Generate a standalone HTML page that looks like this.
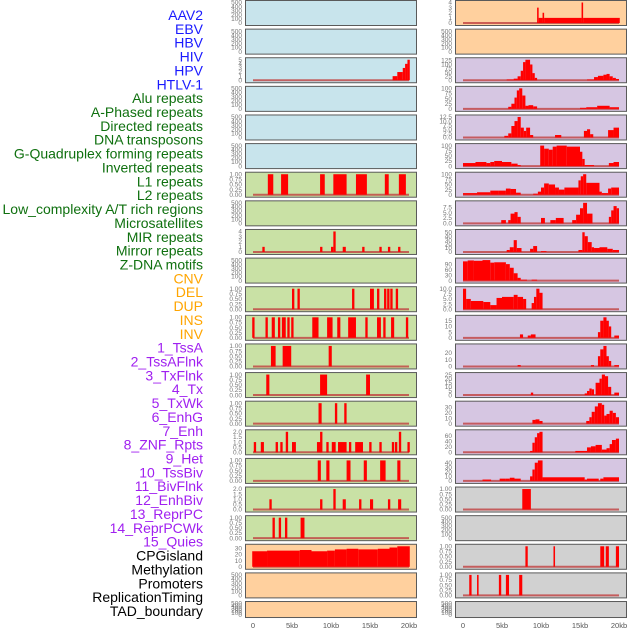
<!DOCTYPE html>
<html><head><meta charset="utf-8"><style>
html,body{margin:0;padding:0;background:#fff;}
svg{display:block;font-family:"Liberation Sans",sans-serif;}
</style></head><body>
<svg id="chart" width="630" height="630" viewBox="0 0 630 630"></svg>
<script>
// ---- labels ----
const trackLabels = ["AAV2","EBV","HBV","HIV","HPV","HTLV-1","Alu repeats","A-Phased repeats","Directed repeats","DNA transposons","G-Quadruplex forming repeats","Inverted repeats","L1 repeats","L2 repeats","Low_complexity A/T rich regions","Microsatellites","MIR repeats","Mirror repeats","Z-DNA motifs","CNV","DEL","DUP","INS","INV","1_TssA","2_TssAFlnk","3_TxFlnk","4_Tx","5_TxWk","6_EnhG","7_Enh","8_ZNF_Rpts","9_Het","10_TssBiv","11_BivFlnk","12_EnhBiv","13_ReprPC","14_ReprPCWk","15_Quies","CPGisland","Methylation","Promoters","ReplicationTiming","TAD_boundary"];
const labelGroups = [6,13,5,15,5];
const xTickKb = [0,5,10,15,20];
const xTickLabels = ["0","5kb","10kb","15kb","20kb"];

// ---- tick sets ----
const ticksEmpty = [0,100,200,300,400,500];
const ticksBinary = [0,0.25,0.5,0.75,1];
const labelsBinary = ["0.00","0.25","0.50","0.75","1.00"];

// ---- left column data ----
const hbvSegs = [[17.9,18.5,1],[18.5,19.2,2],[19.2,19.5,3],[19.5,19.8,4],[19.8,20.1,5]];
const aluIntervals = [[1.9,2.6,1],[3.6,4.5,1],[8.6,9.2,1],[10.3,12.0,1],[13.2,14.6,1],[16.9,17.4,1],[18.7,19.6,1]];
const directedIntervals = [[1.2,1.5,1],[8.6,8.9,1],[10.0,10.3,1],[10.3,10.6,4],[11.5,11.9,1],[14.0,14.3,1],[16.2,16.5,1],[17.3,17.6,1],[18.6,18.9,1]];
const gquadIntervals = [[5.0,5.3,1],[5.7,6.0,1],[12.7,13.0,1],[15.0,15.5,1],[15.9,16.2,1],[16.8,17.1,1],[17.2,17.5,1],[17.6,17.9,1],[18.3,18.6,1]];
const invertedIntervals = [[-0.1,0.2,1],[1.6,1.9,1],[2.4,2.8,1],[3.2,3.5,1],[3.7,4.2,1],[4.4,4.7,1],[4.9,5.2,1],[7.6,8.4,1],[9.5,10.2,1],[10.8,11.2,1],[12.2,13.2,1],[14.4,14.7,1],[15.9,16.4,1],[16.7,17.0,1],[17.7,18.1,1],[19.6,19.9,1]];
const lowComplexIntervals = [[2.3,2.9,1],[3.8,4.9,1],[9.7,10.1,1]];
const microsatIntervals = [[1.7,2.1,1],[8.6,9.5,1],[14.5,15.0,1]];
const mirIntervals = [[8.4,8.8,1],[10.5,10.8,1],[11.7,12.0,1]];
const mirrorIntervals = [[0.1,0.4,1],[1.0,1.4,1],[2.9,3.2,1],[3.5,3.8,1],[4.2,4.5,2],[5.0,5.5,1],[8.2,8.8,1],[8.6,8.9,2],[9.4,9.7,1],[10.1,10.6,1],[10.9,12.0,1],[12.3,12.6,1],[13.1,14.1,1],[14.9,15.2,1],[16.2,16.5,1],[17.8,18.1,1],[18.2,18.5,1],[18.7,19.0,2],[19.8,20.1,1]];
const zdnaIntervals = [[8.3,8.7,1],[9.4,9.8,1],[12.0,12.5,1],[14.2,14.6,1],[16.3,17.0,1],[18.5,18.9,1]];
const cnvIntervals = [[2.1,2.4,1],[8.6,8.9,1],[10.3,10.6,2],[11.5,11.9,1],[13.6,13.9,1],[15.0,15.4,1],[17.3,17.6,1],[18.6,19.0,1]];
const delIntervals = [[2.5,2.8,1],[3.3,3.6,1],[4.1,4.4,1],[6.1,6.6,1]];
const dupSegs = [[-0.1,1.8,25],[1.8,6.0,26],[6.0,7.5,27],[7.5,9.5,25],[9.5,10.5,26],[10.5,12.0,28],[12.0,13.5,29],[13.5,16.0,28],[16.0,17.5,29],[17.5,18.5,31],[18.5,20.1,33]];

// ---- right column data ----
const r0Segs = [[9.5,9.7,3],[9.7,10.2,1],[10.2,10.4,2],[10.4,15.2,1],[15.2,15.4,4],[15.4,20.1,1]];
const r2Segs = [[5.6,6.5,5],[6.5,7.0,10],[7.0,7.4,25],[7.4,7.7,60],[7.7,8.0,115],[8.0,8.6,130],[8.6,8.9,100],[8.9,9.2,45],[9.2,9.5,15],[15.9,16.8,5],[16.8,17.3,20],[17.3,18.0,28],[18.0,18.4,35],[18.4,18.8,40],[18.8,19.2,25],[19.2,19.6,15],[19.6,20.0,8]];
const r3Segs = [[5.8,6.2,10],[6.2,6.6,25],[6.6,6.9,55],[6.9,7.2,90],[7.2,7.6,100],[7.6,8.0,65],[8.0,8.4,15],[8.4,9.0,18],[9.0,9.5,12],[15.0,15.8,5],[15.8,17.2,8],[17.2,18.8,15],[18.8,20.0,8]];
const r4Segs = [[5.3,5.8,1],[5.8,6.2,2.5],[6.2,6.6,7],[6.6,7.0,10],[7.0,7.4,12.5],[7.4,7.8,6],[7.8,8.1,4],[8.1,8.6,6],[8.6,9.0,1.5],[11.8,12.6,1.5],[15.5,15.9,4],[15.9,16.3,5],[16.3,16.7,2],[18.6,19.3,4.5],[19.3,20.0,6]];
const r5Segs = [[0,1.6,15],[1.6,3.0,20],[3.0,3.5,15],[3.5,4.0,20],[4.0,5.0,25],[5.0,6.2,20],[6.2,7.0,12],[7.0,7.4,5],[9.9,10.4,100],[10.4,11.0,85],[11.0,11.5,80],[11.5,12.0,95],[12.0,13.3,100],[13.3,15.0,95],[15.0,15.3,70],[15.3,15.6,35],[15.6,16.8,5],[18.7,19.3,15],[19.3,20.0,20]];
const r6Segs = [[0,1.8,8],[1.8,3.5,12],[3.5,4.5,20],[4.5,5.5,20],[5.5,6.1,30],[6.1,6.8,28],[6.8,7.4,10],[9.0,9.6,5],[9.6,10.0,15],[10.0,10.4,35],[10.4,11.0,55],[11.0,11.8,50],[11.8,12.3,35],[12.3,13.0,25],[13.0,14.8,35],[14.8,15.1,70],[15.1,15.4,90],[15.4,15.8,100],[15.8,17.5,58],[17.5,17.8,15],[17.8,18.6,8],[18.6,19.0,30],[19.0,20.0,35]];
const r7Segs = [[4.9,5.5,1.5],[5.8,6.1,1.5],[6.1,6.6,4.5],[6.6,7.0,5.2],[7.0,7.4,3],[10.0,10.5,2.5],[11.2,11.9,1.5],[11.9,12.9,2.5],[14.0,14.5,1.5],[14.5,15.0,4],[15.0,15.4,7],[15.4,15.9,9.5],[15.9,16.6,4.5],[18.7,19.0,3],[19.0,19.3,6],[19.3,19.7,8],[19.7,20.0,7]];
const r8Segs = [[5.6,6.0,5],[6.0,6.5,12],[6.5,6.9,30],[6.9,7.5,10],[8.6,9.0,8],[9.0,9.5,15],[10.0,10.7,2],[14.8,15.3,5],[15.3,15.6,50],[15.6,16.0,40],[16.0,16.5,25],[16.5,16.8,12],[16.8,17.5,10],[17.5,18.5,12],[18.5,19.2,8],[19.2,20.0,5]];
const r9Segs = [[0,0.6,105],[0.6,1.4,110],[1.4,2.5,108],[2.5,3.5,112],[3.5,4.0,98],[4.0,5.5,100],[5.5,6.0,90],[6.0,6.5,70],[6.5,7.0,40],[7.0,7.4,15],[7.4,8.2,5],[8.8,9.5,5]];
const r10Segs = [[0,0.4,10],[0.4,1.0,5],[1.0,2.6,4],[2.6,3.5,3.5],[3.5,4.3,2],[4.3,5.0,5.5],[5.0,6.5,6],[6.5,7.0,7],[7.0,7.7,6],[7.7,8.1,5],[8.8,9.1,3],[9.1,9.4,6],[9.4,9.8,10],[9.8,10.2,8]];
const r11Segs = [[7.3,7.7,3],[8.3,8.7,2],[8.7,9.3,3],[17.3,17.6,5],[17.6,18.0,15],[18.0,18.4,18],[18.4,18.7,15],[18.7,19.0,10],[19.4,20.0,2]];
const r12Segs = [[7.0,7.4,2],[16.4,16.8,2],[17.3,17.6,15],[17.6,18.0,25],[18.0,18.4,30],[18.4,18.7,15],[18.7,19.0,8],[19.4,20.0,2]];
const r13Segs = [[8.7,9.0,3],[15.6,15.9,2],[15.9,16.2,5],[16.2,16.5,8],[16.5,16.8,7],[17.0,17.5,15],[17.5,17.8,20],[17.8,18.2,25],[18.2,18.6,23],[18.6,19.0,10],[19.4,20.0,3]];
const r14Segs = [[8.9,9.3,7],[9.3,9.8,8],[9.8,10.2,5],[15.8,16.2,5],[16.2,16.5,12],[16.5,16.9,22],[16.9,17.3,32],[17.3,17.8,38],[17.8,18.1,35],[18.1,18.4,15],[18.4,18.8,18],[18.8,19.2,24],[19.2,19.6,20],[19.6,20.0,12]];
const r15Segs = [[8.6,8.9,5],[8.9,9.2,35],[9.2,9.5,55],[9.5,9.8,70],[9.8,10.2,75],[14.4,15.9,5],[15.9,16.4,18],[16.4,17.0,22],[17.0,17.8,27],[17.8,18.4,10],[18.4,18.8,15],[18.8,19.1,30],[19.1,19.6,45],[19.6,20.0,50]];
const r16Segs = [[2.5,3.6,3],[4.7,5.4,5],[5.4,6.0,5],[6.0,6.6,7],[6.6,7.4,5],[8.6,8.9,10],[8.9,9.2,25],[9.2,9.6,40],[9.6,10.2,45],[10.2,15.6,8],[15.6,15.9,3],[15.9,17.4,5],[17.6,18.0,5],[18.0,20.0,8]];
const r17Intervals = [[7.6,8.7,1]];
const r19Intervals = [[8.0,8.3,1],[11.6,11.8,1],[17.6,18.1,1],[18.3,18.7,1],[19.6,20.0,1]];
const r20Intervals = [[0.8,1.1,1],[1.8,2.0,1],[4.6,4.9,1],[5.5,5.9,1],[7.2,7.6,1]];

// ---- panel definitions ----
const BG = {blue:"#c8e4ec",green:"#c9e1a5",orange:"#ffd09e",purple:"#d6c6e2",gray:"#d1d1d1"};
const leftPanels = [
 {bg:"blue",data:null},{bg:"blue",data:null},
 {bg:"blue",data:hbvSegs,ticks:[0,1,2,3,4,5],ymax:5},
 {bg:"blue",data:null},{bg:"blue",data:null},{bg:"blue",data:null},
 {bg:"green",data:aluIntervals,bin:true},
 {bg:"green",data:null},
 {bg:"green",data:directedIntervals,ticks:[0,1,2,3,4],ymax:4},
 {bg:"green",data:null},
 {bg:"green",data:gquadIntervals,bin:true},
 {bg:"green",data:invertedIntervals,bin:true},
 {bg:"green",data:lowComplexIntervals,bin:true},
 {bg:"green",data:microsatIntervals,bin:true},
 {bg:"green",data:mirIntervals,bin:true},
 {bg:"green",data:mirrorIntervals,ticks:[0,0.5,1,1.5,2],tl:["0.0","0.5","1.0","1.5","2.0"],ymax:2},
 {bg:"green",data:zdnaIntervals,bin:true},
 {bg:"green",data:cnvIntervals,ticks:[0,0.5,1,1.5,2],tl:["0.0","0.5","1.0","1.5","2.0"],ymax:2},
 {bg:"green",data:delIntervals,bin:true},
 {bg:"orange",data:dupSegs,ticks:[0,10,20,30],ymax:33},
 {bg:"orange",data:null},{bg:"orange",data:null}
];
const rightPanels = [
 {bg:"orange",data:r0Segs,ticks:[0,1,2,3,4],ymax:4},
 {bg:"orange",data:null},
 {bg:"purple",data:r2Segs,ticks:[0,25,50,75,100,125],ymax:130},
 {bg:"purple",data:r3Segs,ticks:[0,25,50,75,100],ymax:100},
 {bg:"purple",data:r4Segs,ticks:[0,2.5,5,7.5,10,12.5],tl:["0.0","2.5","5.0","7.5","10.0","12.5"],ymax:12.5},
 {bg:"purple",data:r5Segs,ticks:[0,25,50,75,100],ymax:100},
 {bg:"purple",data:r6Segs,ticks:[0,25,50,75,100],ymax:100},
 {bg:"purple",data:r7Segs,ticks:[0,2.5,5,7.5],tl:["0.0","2.5","5.0","7.5"],ymax:9.5},
 {bg:"purple",data:r8Segs,ticks:[0,10,20,30,40,50],ymax:52},
 {bg:"purple",data:r9Segs,ticks:[0,30,60,90],ymax:112},
 {bg:"purple",data:r10Segs,ticks:[0,2.5,5,7.5,10],tl:["0.0","2.5","5.0","7.5","10.0"],ymax:10},
 {bg:"purple",data:r11Segs,ticks:[0,5,10,15],ymax:18},
 {bg:"purple",data:r12Segs,ticks:[0,10,20],ymax:30},
 {bg:"purple",data:r13Segs,ticks:[0,5,10,15,20,25],ymax:25},
 {bg:"purple",data:r14Segs,ticks:[0,10,20,30],ymax:38},
 {bg:"purple",data:r15Segs,ticks:[0,20,40,60],ymax:75},
 {bg:"purple",data:r16Segs,ticks:[0,10,20,30,40],ymax:45},
 {bg:"gray",data:r17Intervals,bin:true},
 {bg:"gray",data:null},
 {bg:"gray",data:r19Intervals,bin:true},
 {bg:"gray",data:r20Intervals,bin:true},
 {bg:"gray",data:null}
];

const NS="http://www.w3.org/2000/svg";
const svg=document.getElementById('chart');
function mk(tag,attrs,parent){const e=document.createElementNS(NS,tag);for(const k in attrs)e.setAttribute(k,attrs[k]);(parent||svg).appendChild(e);return e;}

// labels
let gi=0,cnt=0;const colors=["#1a1aff","#0f700f","#ffa500","#a020f0","#000000"];
trackLabels.forEach((t,i)=>{
  if(cnt>=labelGroups[gi]){gi++;cnt=0;}cnt++;
  const el=mk('text',{x:203,y:(20+i*13.86).toFixed(1),'text-anchor':'end','font-size':'14',fill:colors[gi]});
  el.textContent=t;
  
  
});

const PITCH=28.62;
function rowTop(r){return r*PITCH;}
function rowH(r){return r===21?16:25;}

function drawPanel(p,col,r){
  const left=col===0?245:455, width=171;
  const top=rowTop(r)+0.5, h=rowH(r);
  const x0=col===0?253:463, kbw=7.8;
  const xs=kb=>x0+kb*kbw;
  const g=mk('g',{});
  
  
  mk('rect',{x:left+0.5,y:top,width:width,height:h,fill:BG[p.bg],stroke:'#5a5a5a','stroke-width':1},g);
  let ticks,tl,ymax;
  if(!p.data){ticks=ticksEmpty;ymax=500;}
  else if(p.bin){ticks=ticksBinary;tl=labelsBinary;ymax=1;}
  else {ticks=p.ticks;tl=p.tl;ymax=p.ymax;}
  const yb=top+h-2.5, yt=top+2;
  const ys=v=>yb-(v/ymax)*(yb-yt);
  ticks.forEach((t,i)=>{
    const e=mk('text',{x:left-3,y:(ys(t)+2.2).toFixed(1),'text-anchor':'end','font-size':'6.5',fill:'#777'},g);
    e.textContent=tl?tl[i]:String(t);
    
    
  });
  if(p.data){
    mk('line',{x1:xs(0),x2:xs(20),y1:yb,y2:yb,stroke:'#c04040','stroke-width':2,'stroke-opacity':0.8},g);
    p.data.forEach(d=>{
      const b=mk('rect',{x:xs(d[0]).toFixed(2),y:ys(d[2]).toFixed(2),width:Math.max(1,(d[1]-d[0])*kbw).toFixed(2),height:(yb-ys(d[2])).toFixed(2),fill:'#ff0000'},g);
      
      
    });
  }
}
leftPanels.forEach((p,r)=>drawPanel(p,0,r));
rightPanels.forEach((p,r)=>drawPanel(p,1,r));

// x-axis tick labels
[253,463].forEach(x0=>{
  xTickKb.forEach((k,i)=>{
    const e=mk('text',{x:x0+k*7.8,y:628,'text-anchor':'middle','font-size':'7.5',fill:'#555'});
    e.textContent=xTickLabels[i];
    
    
  });
});
</script>
</body></html>
